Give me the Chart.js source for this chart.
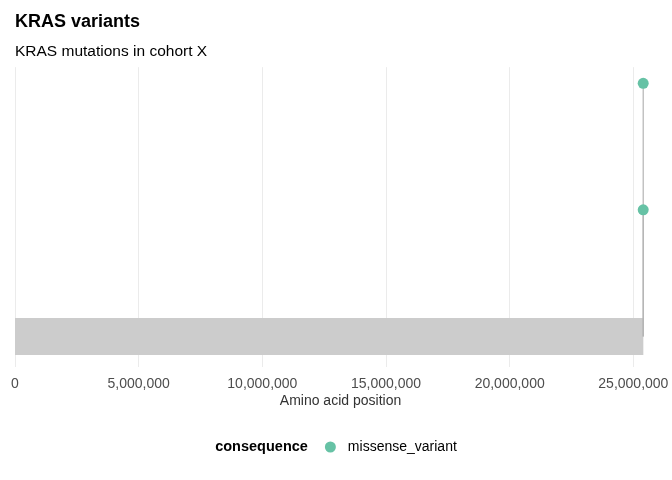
<!DOCTYPE html>
<html>
<head>
<meta charset="utf-8">
<script src="https://cdn.jsdelivr.net/npm/chart.js@4"></script>
<style>
  html, body { margin: 0; padding: 0; background: #fff; }
  #wrap { width: 672px; height: 480px; }
</style>
</head>
<body>
<div id="wrap"><canvas id="lollipop"></canvas></div>
<script>
// gene span and variant lollipops
const GENE_START = 0
const GENE_END = 25403870
const VARIANT_POS = [25398284, 25398281]
const VARIANT_COUNT = [2, 1]
const VARIANT_CONSEQUENCE = ['missense_variant', 'missense_variant']
const X_TICKS = [0, 5000000, 10000000, 15000000, 20000000, 25000000]

const FONT = "'Liberation Sans', Arial, sans-serif"
const COLORS = {
  missense_variant: '#66C2A5',
  gene: '#CCCCCC',
  stem: '#B3B3B3',
  grid: '#EBEBEB'
}

const stemDatasets = VARIANT_POS.map((pos, i) => ({
  type: 'line',
  data: [{ x: pos, y: 0 }, { x: pos, y: VARIANT_COUNT[i] }],
  borderColor: COLORS.stem,
  borderWidth: 1.2,
  pointRadius: 0,
  order: 1
}))

var lollipopData = {
  datasets: [{
    type: 'scatter',
    label: 'missense_variant',
    data: VARIANT_POS.map((pos, i) => ({ x: pos, y: VARIANT_COUNT[i] })),
    backgroundColor: VARIANT_CONSEQUENCE.map(c => COLORS[c]),
    borderWidth: 0,
    pointRadius: 5.5,
    order: 0
  },
  ...stemDatasets,
  {
    // gene body drawn as a thick band along y = 0
    type: 'line',
    data: [{ x: GENE_START, y: 0 }, { x: GENE_END, y: 0 }],
    borderColor: COLORS.gene,
    borderWidth: 37,
    borderCapStyle: 'butt',
    pointRadius: 0,
    order: 2
  }]
}

// ggplot-style inline legend under the axis
const bottomLegend = {
  id: 'bottomLegend',
  afterDraw(chart) {
    const ctx = chart.ctx
    const y = chart.height - 33
    const title = 'consequence'
    const label = VARIANT_CONSEQUENCE[0]
    ctx.save()
    ctx.textBaseline = 'middle'
    ctx.font = 'bold 14.5px ' + FONT
    const tw = ctx.measureText(title).width
    ctx.font = '14px ' + FONT
    const lw = ctx.measureText(label).width
    const total = tw + 17 + 11 + 12 + lw
    let x = chart.width / 2 - total / 2
    ctx.fillStyle = '#000'
    ctx.font = 'bold 14.5px ' + FONT
    ctx.fillText(title, x, y)
    x += tw + 17
    ctx.fillStyle = COLORS[label]
    ctx.beginPath()
    ctx.arc(x + 5.5, y, 5.5, 0, Math.PI * 2)
    ctx.fill()
    x += 11 + 12
    ctx.fillStyle = '#000'
    ctx.font = '14px ' + FONT
    ctx.fillText(label, x, y)
    ctx.restore()
  }
}

var lollipopOptions = {
  responsive: true,
  maintainAspectRatio: false,
  animation: false,
  layout: {
    padding: { left: 15, right: 6, top: 0, bottom: 70 }
  },
  scales: {
    x: {
      type: 'linear',
      min: 0,
      max: 26320000,
      border: { display: false },
      grid: { color: COLORS.grid, lineWidth: 1, drawTicks: true, tickLength: 8, tickColor: 'rgba(0,0,0,0)' },
      afterBuildTicks: axis => { axis.ticks = X_TICKS.map(v => ({ value: v })) },
      ticks: {
        includeBounds: false,
        padding: 0,
        color: '#4D4D4D',
        font: { family: FONT, size: 14 },
        callback: value => value.toLocaleString('en-US')
      },
      title: {
        display: true,
        text: 'Amino acid position',
        color: '#333333',
        font: { family: FONT, size: 14 },
        padding: { top: 1, bottom: 0 }
      }
    },
    y: {
      type: 'linear',
      min: -0.245,
      max: 2.127,
      display: false
    }
  },
  plugins: {
    legend: { display: false },
    tooltip: { enabled: false },
    title: {
      display: true,
      align: 'start',
      text: 'KRAS variants',
      color: '#000',
      font: { family: FONT, size: 18, weight: 'bold' },
      padding: { top: 11, bottom: 10 }
    },
    subtitle: {
      display: true,
      align: 'start',
      text: 'KRAS mutations in cohort X',
      color: '#000',
      font: { family: FONT, size: 15.5 },
      padding: { top: 0, bottom: 6 }
    }
  }
}

var lollipopCtx = document.getElementById('lollipop')

const lollipopChart = new Chart(lollipopCtx, {
  data: lollipopData,
  plugins: [bottomLegend],
  options: lollipopOptions
})
</script>
</body>
</html>
